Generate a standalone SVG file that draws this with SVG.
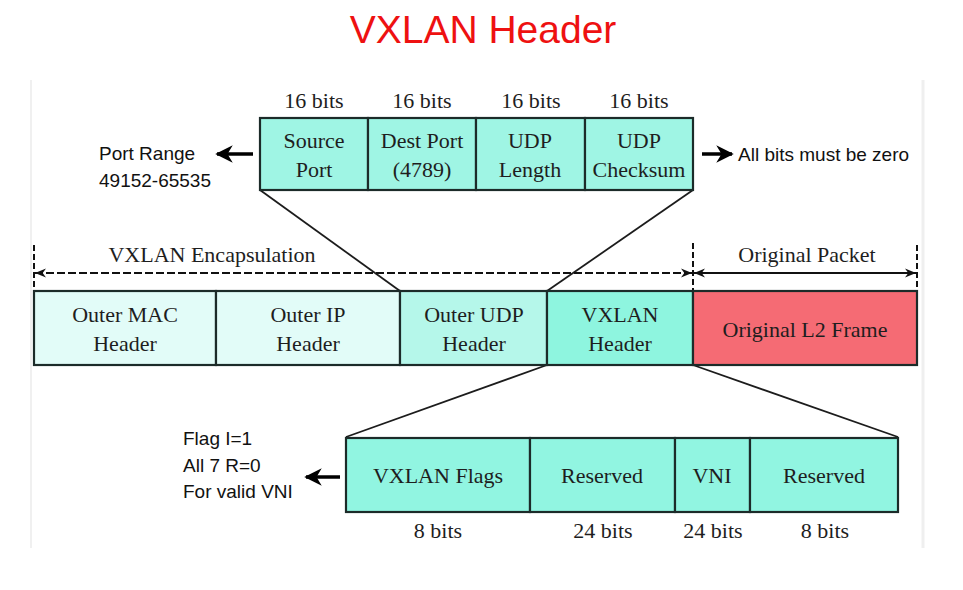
<svg xmlns="http://www.w3.org/2000/svg" width="963" height="590" viewBox="0 0 963 590">
<defs>
<style>
.box{stroke:#1c2b29;stroke-width:2.2}
.t{font-family:"Liberation Serif","DejaVu Serif",serif;font-size:22px;fill:#1e1e1e;text-anchor:middle}
.a{font-family:"Liberation Sans",Arial,sans-serif;font-size:19px;fill:#111}
.ln{stroke:#1c1c1c;stroke-width:1.8;fill:none}
.dash{stroke:#111;stroke-width:2.2;stroke-dasharray:7 4;fill:none}
.tick{stroke:#111;stroke-width:2;stroke-dasharray:6 3;fill:none}
.arr{stroke:#000;stroke-width:3.5;fill:none}
</style>
<marker id="ah" viewBox="0 0 10 10" refX="10" refY="5" markerWidth="11" markerHeight="11" markerUnits="userSpaceOnUse" orient="auto">
<path d="M0,1 L10,5 L0,9 L3,5 Z" fill="#111"/>
</marker>
<marker id="bh" viewBox="0 0 10 10" refX="9" refY="5" markerWidth="5" markerHeight="5" orient="auto">
<path d="M0,0 L10,5 L0,10 L3,5 Z" fill="#000"/>
</marker>
</defs>
<rect width="963" height="590" fill="#fff"/>
<line x1="31" y1="80" x2="31" y2="548" stroke="#f0f0f0" stroke-width="2"/>
<line x1="923" y1="80" x2="923" y2="548" stroke="#efefef" stroke-width="3"/>
<text x="483" y="43" font-family="'Liberation Sans',Arial,sans-serif" font-size="39" fill="#ee1111" text-anchor="middle">VXLAN Header</text>

<g id="connectors">
<line class="ln" x1="260" y1="190" x2="400" y2="291"/>
<line class="ln" x1="693" y1="190" x2="547" y2="291"/>
<line class="ln" x1="547" y1="365" x2="346" y2="437"/>
<line class="ln" x1="693" y1="365" x2="898" y2="437"/>
<line class="tick" x1="34" y1="245" x2="34" y2="291"/>
<line class="tick" x1="693" y1="243" x2="693" y2="291"/>
<line class="tick" x1="917" y1="245" x2="917" y2="291"/>
<line class="dash" x1="692" y1="273" x2="35" y2="273" marker-end="url(#ah)"/>
<line class="dash" x1="35" y1="273" x2="692" y2="273" marker-end="url(#ah)"/>
<line class="dash" x1="694" y1="273" x2="916" y2="273" marker-end="url(#ah)"/>
<line class="dash" x1="916" y1="273" x2="694" y2="273" marker-end="url(#ah)"/>
<line class="arr" x1="253" y1="154" x2="217" y2="154" marker-end="url(#bh)"/>
<line class="arr" x1="702" y1="154" x2="732" y2="154" marker-end="url(#bh)"/>
<line class="arr" x1="340" y1="477" x2="306" y2="477" marker-end="url(#bh)"/>
</g>

<g id="udp-header">
<text class="t" x="314" y="108">16 bits</text>
<text class="t" x="422" y="108">16 bits</text>
<text class="t" x="531" y="108">16 bits</text>
<text class="t" x="639" y="108">16 bits</text>
<g id="source-port"><rect class="box" x="260" y="118" width="108" height="72" fill="#9ff5e4"/>
<text class="t" x="314" y="148">Source</text><text class="t" x="314" y="177">Port</text></g>
<g id="dest-port"><rect class="box" x="368" y="118" width="108" height="72" fill="#9ff5e4"/>
<text class="t" x="422" y="148">Dest Port</text><text class="t" x="422" y="177">(4789)</text></g>
<g id="udp-length"><rect class="box" x="476" y="118" width="109" height="72" fill="#9ff5e4"/>
<text class="t" x="530" y="148">UDP</text><text class="t" x="530" y="177">Length</text></g>
<g id="udp-checksum"><rect class="box" x="585" y="118" width="108" height="72" fill="#9ff5e4"/>
<text class="t" x="639" y="148">UDP</text><text class="t" x="639" y="177">Checksum</text></g>
</g>

<g id="port-range-note">
<text class="a" x="99" y="160">Port Range</text>
<text class="a" x="99" y="187">49152-65535</text>
</g>
<g id="checksum-note">
<text class="a" x="738" y="161" font-size="19.8">All bits must be zero</text>
</g>

<g id="spans">
<text class="t" x="212" y="262">VXLAN Encapsulation</text>
<text class="t" x="807" y="262">Original Packet</text>
</g>

<g id="packet">
<g id="outer-mac"><rect class="box" x="34" y="291" width="182" height="74" fill="#e2fcf8"/>
<text class="t" x="125" y="322">Outer MAC</text><text class="t" x="125" y="351">Header</text></g>
<g id="outer-ip"><rect class="box" x="216" y="291" width="184" height="74" fill="#e2fcf8"/>
<text class="t" x="308" y="322">Outer IP</text><text class="t" x="308" y="351">Header</text></g>
<g id="outer-udp"><rect class="box" x="400" y="291" width="147" height="74" fill="#b5f7ea"/>
<text class="t" x="474" y="322">Outer UDP</text><text class="t" x="474" y="351">Header</text></g>
<g id="vxlan-header"><rect class="box" x="547" y="291" width="146" height="74" fill="#8ef5df"/>
<text class="t" x="620" y="322">VXLAN</text><text class="t" x="620" y="351">Header</text></g>
<g id="original-l2"><rect class="box" x="693" y="291" width="224" height="74" fill="#f56b74"/>
<text class="t" x="805" y="337">Original L2 Frame</text></g>
</g>

<g id="vxlan-fields">
<g id="vxlan-flags"><rect class="box" x="346" y="438" width="184" height="74" fill="#91f5e1"/>
<text class="t" x="438" y="483">VXLAN Flags</text></g>
<g id="reserved1"><rect class="box" x="530" y="438" width="145" height="74" fill="#91f5e1"/>
<text class="t" x="602" y="483">Reserved</text></g>
<g id="vni"><rect class="box" x="675" y="438" width="75" height="74" fill="#91f5e1"/>
<text class="t" x="712" y="483">VNI</text></g>
<g id="reserved2"><rect class="box" x="750" y="438" width="148" height="74" fill="#91f5e1"/>
<text class="t" x="824" y="483">Reserved</text></g>
<text class="t" x="438" y="538">8 bits</text>
<text class="t" x="603" y="538">24 bits</text>
<text class="t" x="713" y="538">24 bits</text>
<text class="t" x="825" y="538">8 bits</text>
</g>

<g id="flag-note">
<text class="a" x="183" y="445">Flag I=1</text>
<text class="a" x="183" y="472">All 7 R=0</text>
<text class="a" x="183" y="498">For valid VNI</text>
</g>
</svg>
